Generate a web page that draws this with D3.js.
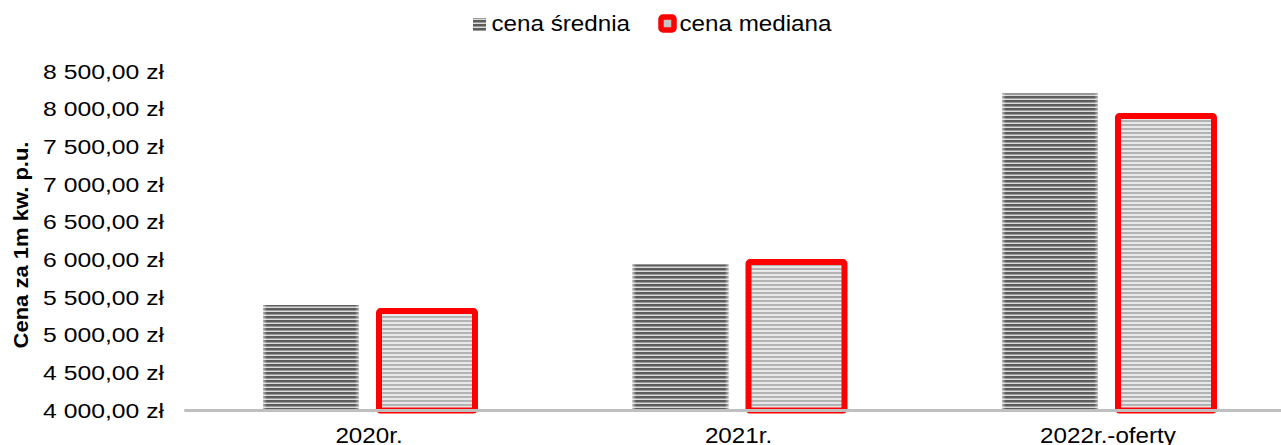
<!DOCTYPE html>
<html>
<head>
<meta charset="utf-8">
<script src="https://cdn.jsdelivr.net/npm/d3@7"></script>
<style>
  html, body { margin: 0; padding: 0; background: #ffffff; }
  svg { display: block; }
  text { font-family: "Liberation Sans", Arial, sans-serif; fill: #000; }
</style>
</head>
<body>
<svg id="chart" width="1281" height="445"></svg>
<script>
// ---- data ----
const categories = ["2020r.", "2021r.", "2022r.-oferty"];
const seriesNames = ["cena średnia", "cena mediana"];
const sredniaValues = [5400, 5940, 8210];
const medianaValues = [5320, 5970, 7910];
const yTickValues = [4000, 4500, 5000, 5500, 6000, 6500, 7000, 7500, 8000, 8500];
const yTitle = "Cena za 1m kw. p.u.";

const W = 1281, H = 445;
const svg = d3.select("#chart");

const plL = 184.25, plR = 1292.75, plT = 71.5, plB = 410.5;

const locale = d3.formatLocale({ decimal: ",", thousands: " ", grouping: [3], currency: ["", " zł"] });
const fmt = locale.format("$,.2f");

const x0 = d3.scaleBand().domain(categories).range([plL, plR])
  .paddingInner(0.4263).paddingOuter(0.21315);
const x1 = d3.scaleBand().domain(seriesNames).range([0, x0.bandwidth()])
  .paddingInner(0.1724).paddingOuter(0);
const y = d3.scaleLinear().domain([4000, 8500]).range([plB, plT]);

// ---- patterns ----
const defs = svg.append("defs");
const p1 = defs.append("pattern").attr("id", "pSr").attr("patternUnits", "userSpaceOnUse")
  .attr("width", 8).attr("height", 4);
p1.append("rect").attr("width", 8).attr("height", 4).attr("fill", "#dadada");
p1.append("rect").attr("width", 8).attr("height", 2.5).attr("fill", "#5c5c5c");

const p2 = defs.append("pattern").attr("id", "pMe").attr("patternUnits", "userSpaceOnUse")
  .attr("width", 8).attr("height", 4);
p2.append("rect").attr("width", 8).attr("height", 4).attr("fill", "#e8e8e8");
p2.append("rect").attr("width", 8).attr("height", 2).attr("fill", "#b3b3b3");

const g = defs.append("linearGradient").attr("id", "edge").attr("x1", "0").attr("x2", "1").attr("y1", "0").attr("y2", "0");
g.append("stop").attr("offset", "0").attr("stop-color", "#fff").attr("stop-opacity", 0.55);
g.append("stop").attr("offset", "0.04").attr("stop-color", "#fff").attr("stop-opacity", 0);
g.append("stop").attr("offset", "0.96").attr("stop-color", "#fff").attr("stop-opacity", 0);
g.append("stop").attr("offset", "1").attr("stop-color", "#fff").attr("stop-opacity", 0.55);

// ---- y tick labels ----
const yAxisG = svg.append("g");
const tickTexts = yAxisG.selectAll("text").data(yTickValues).join("text")
  .attr("text-anchor", "end")
  .attr("dy", "0.36em")
  .style("font-size", "19.5px")
  .text(d => fmt(d));
let tickLen = 0;
tickTexts.each(function() { tickLen = Math.max(tickLen, this.getComputedTextLength()); });
const tickScale = tickLen > 0 ? 121 / tickLen : 1.165;
tickTexts.attr("transform", d => `translate(164,${y(d)}) scale(${tickScale},1)`);

// ---- y title ----
const title = svg.append("text")
  .attr("text-anchor", "middle")
  .style("font-size", "20px")
  .style("font-weight", "bold")
  .text(yTitle);
const tLen = title.node().getComputedTextLength();
const tScale = tLen > 0 ? 207 / tLen : 1.1;
title.attr("transform", `translate(27.5,245) rotate(-90) scale(${tScale},1)`);

// ---- bars ----
const groups = svg.append("g").selectAll("g").data(categories).join("g")
  .attr("transform", d => `translate(${x0(d)},0)`);

groups.each(function(cat, i) {
  const gg = d3.select(this);
  const sv = sredniaValues[i], mv = medianaValues[i];
  gg.append("rect")
    .attr("x", x1(seriesNames[0])).attr("width", x1.bandwidth())
    .attr("y", y(sv)).attr("height", y(4000) - y(sv))
    .attr("fill", "url(#pSr)");
  gg.append("rect")
    .attr("x", x1(seriesNames[0])).attr("width", x1.bandwidth())
    .attr("y", y(sv)).attr("height", y(4000) - y(sv))
    .attr("fill", "url(#edge)");
  gg.append("rect")
    .attr("x", x1(seriesNames[1])).attr("width", x1.bandwidth())
    .attr("y", y(mv)).attr("height", y(4000) - y(mv))
    .attr("fill", "url(#pMe)");
  gg.append("rect")
    .attr("x", x1(seriesNames[1])).attr("width", x1.bandwidth())
    .attr("y", y(mv)).attr("height", y(4000) - y(mv))
    .attr("fill", "url(#edge)")
    .attr("stroke", "#ff0000").attr("stroke-width", 6)
    .attr("stroke-linejoin", "round").attr("rx", 1.5);
});

// ---- x axis line ----
svg.append("line")
  .attr("x1", plL).attr("x2", W).attr("y1", y(4000)).attr("y2", y(4000))
  .attr("stroke", "#bfbfbf").attr("stroke-width", 3);

// ---- x labels ----
svg.append("g").selectAll("text").data(categories).join("text")
  .attr("transform", d => `translate(${x0(d) + x0.bandwidth() / 2},443) scale(1.1,1)`)
  .attr("text-anchor", "middle")
  .style("font-size", "22px")
  .text(d => d);

// ---- legend ----
const leg = svg.append("g");
leg.append("rect").attr("x", 473).attr("y", 18).attr("width", 13).attr("height", 13)
  .attr("fill", "url(#pSr)");
leg.append("text").attr("transform", "translate(491.5,30.7) scale(1.1,1)")
  .style("font-size", "22px").text(seriesNames[0]);
leg.append("rect").attr("x", 661).attr("y", 17).attr("width", 13).attr("height", 13)
  .attr("fill", "#c4c4c4").attr("stroke", "#ff0000").attr("stroke-width", 5.5)
  .attr("stroke-linejoin", "round").attr("rx", 2);
leg.append("text").attr("transform", "translate(679.5,30.7) scale(1.1,1)")
  .style("font-size", "22px").text(seriesNames[1]);
</script>
</body>
</html>
